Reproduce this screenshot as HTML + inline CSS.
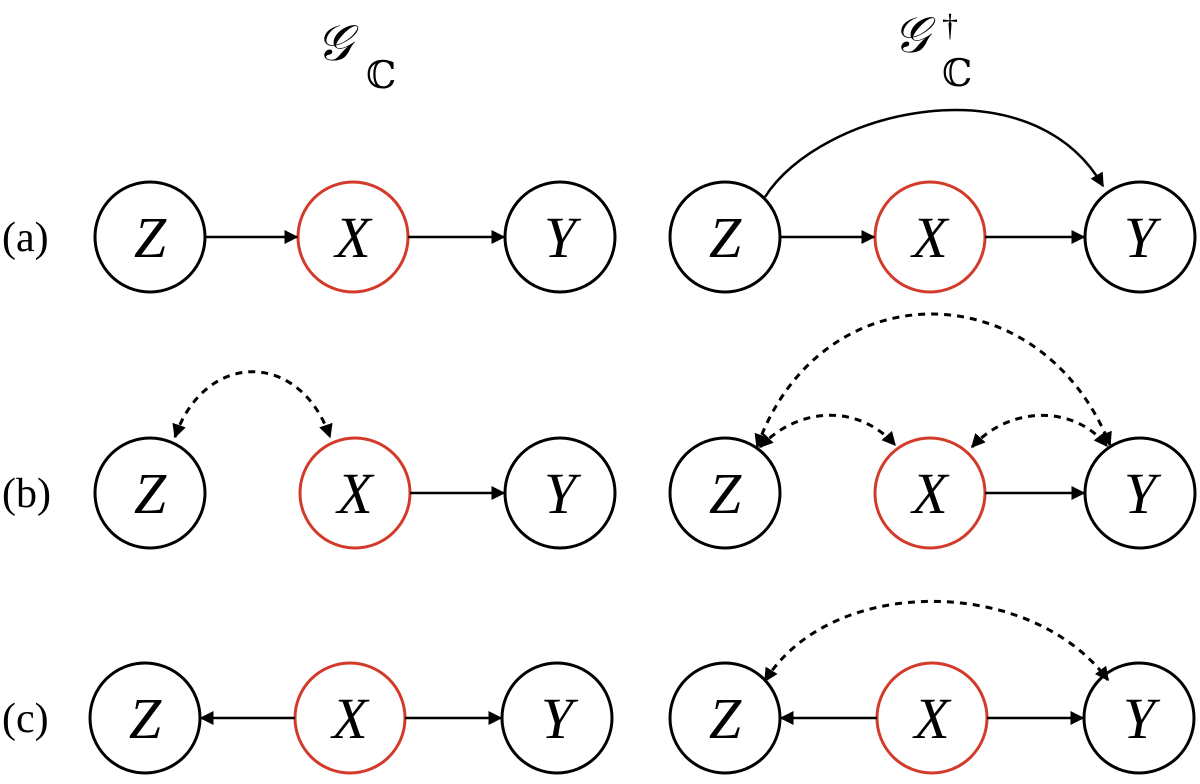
<!DOCTYPE html>
<html><head><meta charset="utf-8"><style>
html,body{margin:0;padding:0;background:#fff;}
svg{display:block;}
text{font-family:"Liberation Serif","DejaVu Serif",serif;}
</style></head><body>
<svg width="1200" height="784" viewBox="0 0 1200 784" xmlns="http://www.w3.org/2000/svg">
<defs>
<marker id="ah" viewBox="0 0 10 10" refX="9" refY="5" markerWidth="14" markerHeight="14" markerUnits="userSpaceOnUse" orient="auto-start-reverse">
<path d="M0,0 L10,5 L0,10 z" fill="#000"/>
</marker>
</defs>
<!-- headers -->
<text x="316" y="60" font-size="50" font-style="italic" font-family="DejaVu Serif, serif">𝒢</text>
<text x="366" y="88" font-size="38" font-family="DejaVu Serif, serif">ℂ</text>
<text x="893" y="52" font-size="50" font-style="italic" font-family="DejaVu Serif, serif">𝒢</text>
<text x="942" y="36" font-size="32">†</text>
<text x="942" y="86" font-size="38" font-family="DejaVu Serif, serif">ℂ</text>

<!-- row labels -->
<text x="2" y="251" font-size="42">(a)</text>
<text x="2" y="507" font-size="42">(b)</text>
<text x="2" y="732" font-size="42">(c)</text>

<g fill="#fff" stroke-width="3">
<!-- row a -->
<circle cx="150" cy="237" r="55" stroke="#000"/>
<circle cx="353" cy="237" r="55" stroke="#d23a2a"/>
<circle cx="560" cy="237" r="55" stroke="#000"/>
<circle cx="725" cy="237" r="55" stroke="#000"/>
<circle cx="930" cy="237" r="55" stroke="#d23a2a"/>
<circle cx="1140" cy="237" r="55" stroke="#000"/>
<!-- row b -->
<circle cx="150" cy="493" r="55" stroke="#000"/>
<circle cx="355" cy="493" r="55" stroke="#d23a2a"/>
<circle cx="560" cy="493" r="55" stroke="#000"/>
<circle cx="725" cy="493" r="55" stroke="#000"/>
<circle cx="930" cy="493" r="55" stroke="#d23a2a"/>
<circle cx="1140" cy="493" r="55" stroke="#000"/>
<!-- row c -->
<circle cx="145" cy="718" r="55" stroke="#000"/>
<circle cx="350" cy="718" r="55" stroke="#d23a2a"/>
<circle cx="557" cy="718" r="55" stroke="#000"/>
<circle cx="725" cy="718" r="55" stroke="#000"/>
<circle cx="932" cy="718" r="55" stroke="#d23a2a"/>
<circle cx="1139" cy="718" r="55" stroke="#000"/>
</g>

<g font-size="58" font-style="italic" text-anchor="middle">
<text x="150" y="257">Z</text><text x="353" y="257">X</text><text x="560" y="257">Y</text>
<text x="725" y="257">Z</text><text x="930" y="257">X</text><text x="1140" y="257">Y</text>
<text x="150" y="513">Z</text><text x="355" y="513">X</text><text x="560" y="513">Y</text>
<text x="725" y="513">Z</text><text x="930" y="513">X</text><text x="1140" y="513">Y</text>
<text x="145" y="738">Z</text><text x="350" y="738">X</text><text x="557" y="738">Y</text>
<text x="725" y="738">Z</text><text x="932" y="738">X</text><text x="1139" y="738">Y</text>
</g>

<g stroke="#000" stroke-width="2.5" fill="none">
<!-- row a -->
<line x1="205" y1="237" x2="297" y2="237" marker-end="url(#ah)"/>
<line x1="408" y1="237" x2="504" y2="237" marker-end="url(#ah)"/>
<line x1="780" y1="237" x2="874" y2="237" marker-end="url(#ah)"/>
<line x1="985" y1="237" x2="1084" y2="237" marker-end="url(#ah)"/>
<path d="M765,197 C820,110 1030,60 1103,186" marker-end="url(#ah)"/>
<!-- row b -->
<line x1="410" y1="493" x2="504" y2="493" marker-end="url(#ah)"/>
<line x1="985" y1="493" x2="1084" y2="493" marker-end="url(#ah)"/>
<!-- row c -->
<line x1="295" y1="718" x2="201" y2="718" marker-end="url(#ah)"/>
<line x1="405" y1="718" x2="501" y2="718" marker-end="url(#ah)"/>
<line x1="877" y1="718" x2="781" y2="718" marker-end="url(#ah)"/>
<line x1="987" y1="718" x2="1083" y2="718" marker-end="url(#ah)"/>
</g>
<g stroke="#000" stroke-width="3" fill="none" stroke-dasharray="7,6">
<path d="M175,437 C205,350 300,350 330,437" marker-start="url(#ah)" marker-end="url(#ah)"/>
<path d="M757,447 C820,270 1040,270 1110,445" marker-start="url(#ah)" marker-end="url(#ah)"/>
<path d="M760,447 C800,405 860,405 895,445" marker-start="url(#ah)" marker-end="url(#ah)"/>
<path d="M972,447 C1010,405 1075,405 1107,446" marker-start="url(#ah)" marker-end="url(#ah)"/>
<path d="M765,681 C830,575 1030,575 1108,680" marker-start="url(#ah)" marker-end="url(#ah)"/>
</g>
</svg>
</body></html>
